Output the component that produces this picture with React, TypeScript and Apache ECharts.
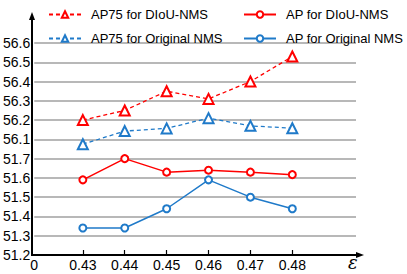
import React, { useEffect, useRef } from "react";
import * as echarts from "echarts";

const xValues = [0.43, 0.44, 0.45, 0.46, 0.47, 0.48];
const yTickLabels = ["51.2", "51.3", "51.4", "51.5", "51.6", "51.7", "56.1", "56.2", "56.3", "56.4", "56.5", "56.6"];
const ap75Diou = [56.2, 56.25, 56.35, 56.31, 56.4, 56.53];
const ap75Orig = [56.075, 56.143, 56.157, 56.21, 56.17, 56.158];
const apDiou = [51.59, 51.7, 51.63, 51.64, 51.63, 51.617];
const apOrig = [51.34, 51.34, 51.44, 51.59, 51.5, 51.44];

// broken axis: lower segment 51.2–51.7 (positions 0–5), upper 56.1–56.6 (positions 6–11)
const toAxis = (v: number) => (v >= 55 ? 6 + (v - 56.1) / 0.1 : (v - 51.2) / 0.1);
const pts = (arr: number[]) => arr.map((v, i) => [xValues[i], toAxis(v)]);

const RED = "#ff0000";
const BLUE = "#1f7ac9";
const FONT = "Liberation Sans";
const X_MIN = 0.4184;

export default function App() {
  const ref = useRef<HTMLDivElement>(null);
  useEffect(() => {
    const chart = echarts.init(ref.current!, null, { renderer: "svg" });
    const legendCommon = {
      top: 3,
      orient: "vertical" as const,
      itemWidth: 32,
      itemHeight: 8,
      itemGap: 11,
      itemStyle: { borderWidth: 1.5 },
      textStyle: { fontSize: 13, fontFamily: FONT, color: "#000", padding: [0, 0, 0, 5] },
    };
    chart.setOption({
      animation: false,
      backgroundColor: "#fff",
      grid: { left: 32, right: 51, top: 43, bottom: 19, containLabel: false },
      legend: [
        { ...legendCommon, left: 43, data: ["AP75 for DIoU-NMS", "AP75 for Original NMS"] },
        { ...legendCommon, left: 238, data: ["AP for DIoU-NMS", "AP for Original NMS"] },
      ],
      xAxis: {
        type: "value",
        min: X_MIN,
        max: 0.4952,
        axisLine: { show: false },
        splitLine: { show: false },
        axisTick: {
          show: true,
          inside: true,
          length: 5,
          customValues: xValues,
          lineStyle: { color: "#000", width: 1.2 },
        },
        axisLabel: {
          customValues: [X_MIN, ...xValues],
          formatter: (v: number) => (v < 0.425 ? "0" : v.toFixed(2)),
          color: "#000",
          fontSize: 14,
          fontFamily: FONT,
          margin: 3,
        },
      },
      yAxis: {
        type: "value",
        min: 0,
        max: 11,
        interval: 1,
        axisLine: { show: false },
        axisTick: { show: false },
        axisLabel: {
          formatter: (v: number) => yTickLabels[Math.round(v)] ?? "",
          color: "#000",
          fontSize: 14,
          fontFamily: FONT,
          margin: 4,
        },
        splitLine: { show: true, lineStyle: { color: "#a0a0a0", width: 1.5 } },
      },
      graphic: [
        { type: "line", shape: { x1: 32, y1: 255, x2: 32, y2: 18 }, style: { stroke: "#000", lineWidth: 2 }, z: 100 },
        { type: "polygon", shape: { points: [[32, 12], [29, 20], [35, 20]] }, style: { fill: "#000" }, z: 100 },
        { type: "line", shape: { x1: 31, y1: 255, x2: 358, y2: 255 }, style: { stroke: "#000", lineWidth: 2 }, z: 100 },
        { type: "polygon", shape: { points: [[364, 255], [356, 252], [356, 258]] }, style: { fill: "#000" }, z: 100 },
        {
          type: "text",
          left: 348,
          top: 253,
          style: { text: "ε", font: "italic 18px 'DejaVu Serif'", fill: "#000" },
        },
      ],
      series: [
        {
          name: "AP75 for DIoU-NMS",
          type: "line",
          data: pts(ap75Diou),
          symbol: "emptyTriangle",
          symbolSize: 10,
          lineStyle: { color: RED, width: 1.3, type: [4, 3] },
          itemStyle: { color: RED, borderWidth: 1.5 },
        },
        {
          name: "AP75 for Original NMS",
          type: "line",
          data: pts(ap75Orig),
          symbol: "emptyTriangle",
          symbolSize: 10,
          lineStyle: { color: BLUE, width: 1.3, type: [4, 3] },
          itemStyle: { color: BLUE, borderWidth: 1.5 },
        },
        {
          name: "AP for DIoU-NMS",
          type: "line",
          data: pts(apDiou),
          symbol: "emptyCircle",
          symbolSize: 7,
          lineStyle: { color: RED, width: 1.5 },
          itemStyle: { color: RED, borderWidth: 1.5 },
        },
        {
          name: "AP for Original NMS",
          type: "line",
          data: pts(apOrig),
          symbol: "emptyCircle",
          symbolSize: 7,
          lineStyle: { color: BLUE, width: 1.5 },
          itemStyle: { color: BLUE, borderWidth: 1.5 },
        },
      ],
    });
    return () => chart.dispose();
  }, []);
  return <div ref={ref} style={{ width: 407, height: 274, position: "absolute", left: 0, top: 0 }} />;
}
